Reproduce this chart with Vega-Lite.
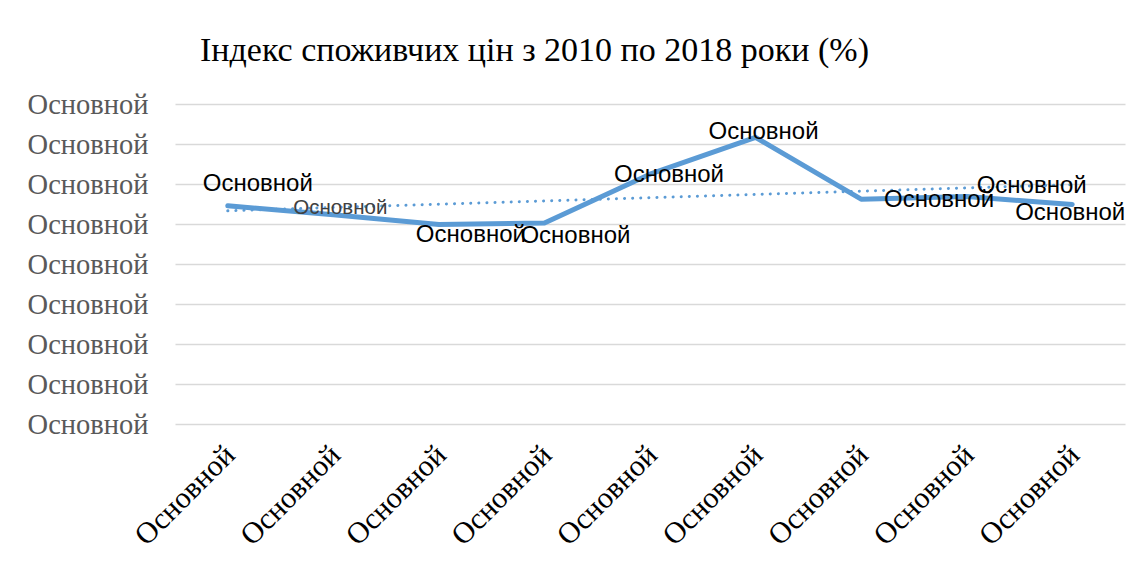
{
  "$schema": "https://vega.github.io/schema/vega-lite/v6.json",
  "width": 950,
  "height": 320,
  "autosize": "none",
  "padding": {"left": 175, "top": 104, "right": 19, "bottom": 139},
  "background": "white",
  "config": {"view": {"stroke": null}},
  "title": {
    "text": "Індекс споживчих цін з 2010 по 2018 роки (%)",
    "font": "Liberation Serif",
    "fontSize": 34,
    "fontWeight": "normal",
    "color": "black",
    "anchor": "start",
    "frame": "group",
    "dx": 25,
    "dy": 40,
    "baseline": "alphabetic",
    "offset": 35
  },
  "data": {
    "values": [
      {"year": 2010, "cpi": 109.1},
      {"year": 2011, "cpi": 104.6},
      {"year": 2012, "cpi": 99.8},
      {"year": 2013, "cpi": 100.5},
      {"year": 2014, "cpi": 124.9},
      {"year": 2015, "cpi": 143.3},
      {"year": 2016, "cpi": 112.4},
      {"year": 2017, "cpi": 113.7},
      {"year": 2018, "cpi": 109.8}
    ]
  },
  "encoding": {
    "x": {
      "field": "year",
      "type": "ordinal",
      "scale": {"type": "point", "padding": 0.5},
      "axis": {
        "title": null,
        "labelExpr": "'Основной'",
        "labelAngle": -45,
        "labelFont": "Liberation Serif",
        "labelFontSize": 30,
        "labelColor": "black",
        "ticks": false,
        "domain": false,
        "grid": false,
        "labelPadding": 26,
        "labelAlign": "right",
        "labelBaseline": "middle",
        "labelOffset": 2
      }
    },
    "y": {
      "field": "cpi",
      "type": "quantitative",
      "scale": {"domain": [0, 160], "nice": false},
      "axis": {
        "title": null,
        "values": [0, 20, 40, 60, 80, 100, 120, 140, 160],
        "labelExpr": "'Основной'",
        "labelFont": "Liberation Serif",
        "labelFontSize": 28.5,
        "labelColor": "#595959",
        "ticks": false,
        "domain": false,
        "grid": true,
        "gridColor": "#d9d9d9",
        "gridWidth": 1.5,
        "labelPadding": 27,
        "labelBaseline": "middle"
      }
    }
  },
  "layer": [
    {
      "mark": {"type": "line", "color": "#5b9bd5", "strokeWidth": 5, "strokeJoin": "round", "strokeCap": "round"}
    },
    {
      "transform": [{"regression": "cpi", "on": "year"}],
      "mark": {"type": "line", "color": "#5b9bd5", "strokeWidth": 3, "strokeDash": [0.1, 8], "strokeCap": "round"}
    },
    {
      "transform": [{"filter": "datum.year == 2010"}],
      "mark": {"type": "text", "font": "Liberation Sans", "fontSize": 24, "color": "black", "align": "center", "baseline": "middle", "dx": 30, "dy": -22},
      "encoding": {"text": {"value": "Основной"}}
    },
    {
      "transform": [{"filter": "datum.year == 2011"}],
      "mark": {"type": "text", "font": "Liberation Sans", "fontSize": 20.5, "color": "#404040", "align": "center", "baseline": "middle", "dx": 7, "dy": -7},
      "encoding": {"text": {"value": "Основной"}}
    },
    {
      "transform": [{"filter": "datum.year == 2012"}],
      "mark": {"type": "text", "font": "Liberation Sans", "fontSize": 24, "color": "black", "align": "center", "baseline": "middle", "dx": 32, "dy": 11},
      "encoding": {"text": {"value": "Основной"}}
    },
    {
      "transform": [{"filter": "datum.year == 2013"}],
      "mark": {"type": "text", "font": "Liberation Sans", "fontSize": 24, "color": "black", "align": "center", "baseline": "middle", "dx": 31, "dy": 13},
      "encoding": {"text": {"value": "Основной"}}
    },
    {
      "transform": [{"filter": "datum.year == 2014"}],
      "mark": {"type": "text", "font": "Liberation Sans", "fontSize": 24, "color": "black", "align": "center", "baseline": "middle", "dx": 19, "dy": 1},
      "encoding": {"text": {"value": "Основной"}}
    },
    {
      "transform": [{"filter": "datum.year == 2015"}],
      "mark": {"type": "text", "font": "Liberation Sans", "fontSize": 24, "color": "black", "align": "center", "baseline": "middle", "dx": 8, "dy": -5},
      "encoding": {"text": {"value": "Основной"}}
    },
    {
      "transform": [{"filter": "datum.year == 2016"}],
      "mark": {"type": "text", "font": "Liberation Sans", "fontSize": 24, "color": "black", "align": "center", "baseline": "middle", "dx": 78, "dy": 1},
      "encoding": {"text": {"value": "Основной"}}
    },
    {
      "transform": [{"filter": "datum.year == 2017"}],
      "mark": {"type": "text", "font": "Liberation Sans", "fontSize": 24, "color": "black", "align": "center", "baseline": "middle", "dx": 65, "dy": -11},
      "encoding": {"text": {"value": "Основной"}}
    },
    {
      "transform": [{"filter": "datum.year == 2018"}],
      "mark": {"type": "text", "font": "Liberation Sans", "fontSize": 24, "color": "black", "align": "center", "baseline": "middle", "dx": -2, "dy": 9},
      "encoding": {"text": {"value": "Основной"}}
    }
  ]
}
